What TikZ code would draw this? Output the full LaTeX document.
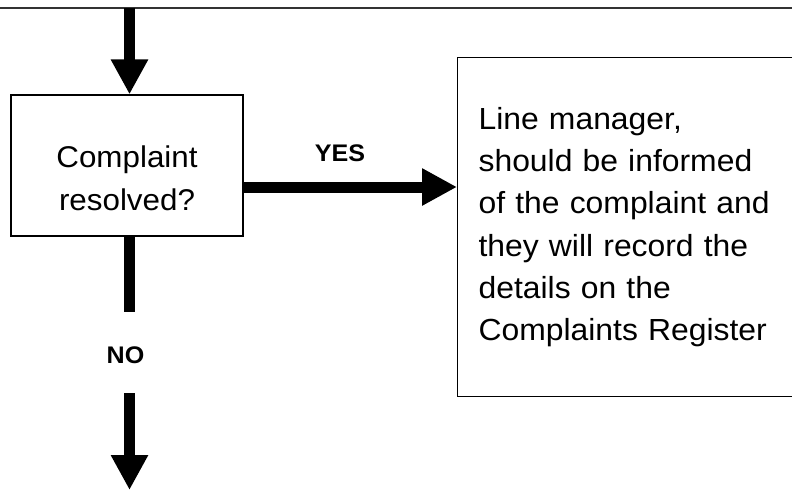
\documentclass[tikz,border=0pt]{standalone}
\usepackage{fontspec}
\setmainfont[FakeStretch=1.045]{Liberation Sans}
\usetikzlibrary{arrows.meta}
\tikzset{
  flowbox/.style={draw=black, line width=1.2pt, fill=white, inner sep=0pt},
  bigarrow/.style={line width=11pt, -{Triangle[width=35pt,length=35pt]}},
  bigshaft/.style={line width=11pt},
  boxfont/.style={font=\fontsize{30.5}{42.2}\selectfont},
  decfont/.style={font=\fontsize{30}{43}\selectfont},
  labelfont/.style={font=\bfseries\fontsize{24}{28}\selectfont},
}
\begin{document}
\begin{tikzpicture}[x=1pt,y=-1pt]
\useasboundingbox (0,0) rectangle (792,490);
% top rule
\draw[line width=1.3pt, black!80] (0,8) -- (792,8);
% left decision box
\node[flowbox, minimum width=232pt, minimum height=141pt] (dec) at (127,165.5) {};
\node[decfont, align=center] (dectext) at ([yshift=-12.3pt]dec.center) {Complaint\\resolved?};
% right info box (extends past the right edge)
\node[flowbox, boxfont, anchor=north west, minimum width=345pt, minimum height=339pt, text width=303pt, inner xsep=21pt, align=left] (info) at (457,57)
  {Line manager,\\should be informed\\of the complaint and\\they will record the\\details on the\\Complaints Register};
% incoming arrow
\coordinate (tin) at (129.5,8);
\draw[bigarrow] (tin) -- (tin |- dec.north);
% YES arrow
\draw[bigarrow] ([yshift=-21.5pt]dec.east) -- ([yshift=-21.5pt]dec.east -| info.west);
\node[labelfont] (yes) at (340,153.5) {YES};
% NO branch
\coordinate (nos) at (129.5,312);
\draw[bigshaft] ([xshift=2.5pt]dec.south) -- (nos);
\node[labelfont] (no) at (125.5,355) {NO};
\coordinate (nob) at (129.5,393);
\coordinate (noe) at (129.5,490);
\draw[bigarrow] (nob) -- (noe);
\end{tikzpicture}
\end{document}
